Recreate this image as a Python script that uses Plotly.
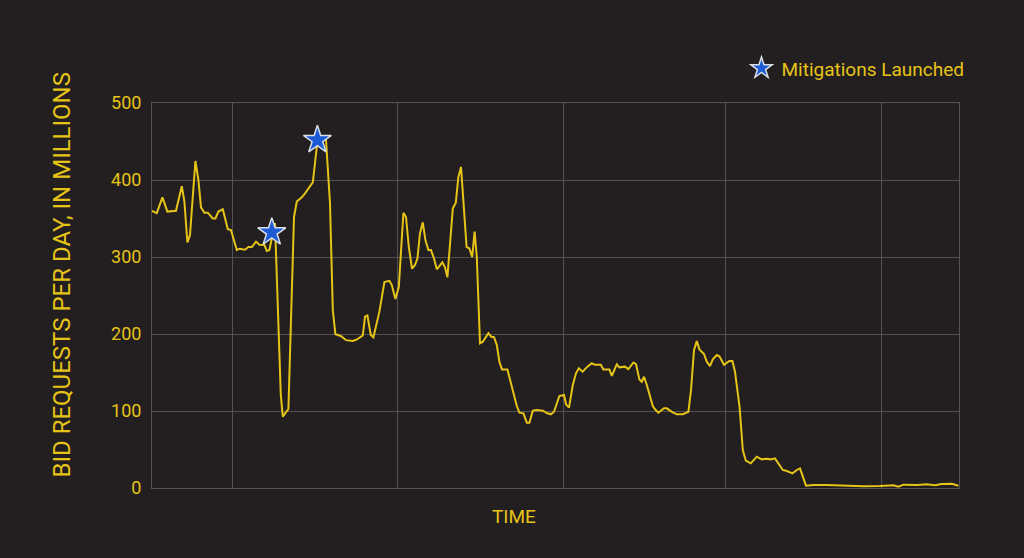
import plotly.graph_objects as go

# time index (sample steps) and bid requests per day (millions)
t = [0, 2.4, 5.2, 7.7, 12, 14.9, 16.2, 17.7, 19, 21.7, 23.2, 24.5, 26.2, 27.9, 30.4, 31.7,
     33.2, 35.4, 37.9, 39.5, 42.4, 43.7, 46.5, 48.2, 49.9, 52, 53.7, 56.2, 57.4, 58.7, 61.5,
     64.4, 65.4, 68.2, 71, 72.4, 74.9, 76.5, 80.4, 81.5, 82.8, 87, 89, 90.4, 91.7, 94.4, 97,
     100.4, 102.5, 105.4, 106.5, 107.7, 109.4, 110.7, 113.7, 116.2, 118.7, 119.9, 121.7,
     123.4, 125.7, 127, 128.4, 130, 131.5, 132.7, 134, 135.4, 136.7, 138.2, 139.5, 141,
     142.4, 145.2, 146.5, 147.7, 149, 150.4, 151.9, 153.2, 154.5, 155.7, 157.3, 158.7,
     160.1, 161.3, 162.4, 164, 165.4, 168.2, 169.6, 171, 172.4, 173.7, 175, 177.7, 180.4,
     182.4, 183.7, 185.7, 187.4, 188.7, 190.4, 192.4, 195.4, 197.7, 199.4, 201, 203.7, 206,
     207, 208.5, 210.4, 212, 213.4, 215.3, 217.7, 219.9, 221.5, 224.4, 225.7, 228.7, 229.9,
     232.4, 233.7, 236.5, 238.2, 240.7, 242, 243.7, 244.9, 246, 247.4, 250.4, 251.5, 253.2,
     256, 257.4, 259.9, 262.4, 265.4, 268.2, 269.5, 271, 272.4, 273.7, 276, 277.4, 279,
     280.4, 282.4, 283.7, 286, 288.7, 290.2, 291.5, 293.8, 295.4, 296.9, 299.4, 302.4,
     304.9, 307.4, 309.4, 311.5, 315.4, 317.4, 320.2, 322.4, 324, 327, 330.7, 337.4, 344,
     349, 355.7, 364, 370.7, 373.2, 375.7, 382.4, 387.4, 391.5, 394.9, 399.9, 403.2]

requests = [360, 357, 377.5, 359, 360, 392, 372, 319, 328.6, 424.7, 400, 364.5, 357.5, 357.5,
            350, 350, 359, 362, 336, 335, 309, 310.8, 309.5, 313, 313, 320, 316, 315.6, 307.8,
            309, 344, 121, 92.6, 102.6, 352, 372, 377.5, 382.7, 397, 426, 452, 452, 369.7, 231,
            199.6, 197.4, 192, 191, 193, 198, 222.5, 224, 198.7, 195.7, 229, 267.5, 269, 263.6,
            245.5, 261, 357.5, 352, 313, 285, 289.6, 298, 331, 345, 322, 309, 309, 298, 284,
            293, 286.6, 273.6, 318, 363, 370.5, 404, 417, 374, 313, 311, 300, 333, 300, 188,
            190, 201, 196.5, 196, 185.7, 164, 154, 154, 125, 106.5, 97.8, 97, 84.8, 84.8, 100.4,
            101.3, 100.4, 97, 95.7, 99, 119.5, 120.8, 108.7, 104.3, 133.8, 149, 155.4, 151,
            157.6, 162, 160, 160, 154, 154, 145.5, 160.6, 156.7, 157.6, 154.5, 163, 161, 141,
            138, 144.5, 133.8, 106.5, 102.2, 97.8, 103.5, 103.5, 99, 95.7, 95.7, 99, 127, 179,
            191, 180, 174, 164, 158.4, 167, 172.7, 171, 160, 165, 165, 151, 105, 49.4, 35.5, 32,
            40.7, 37.2, 38, 37.2, 38.5, 23.4, 22, 19, 23.4, 25.5, 3, 3.9, 4, 3.5, 3.5, 2.2, 2.6,
            3.5, 1.7, 4.3, 3.9, 4.8, 3.5, 5.2, 5.6, 3]

# mitigation launch markers
mitigation_t = [59.9, 82.7]
mitigation_val = [332, 452]

y_ticks = [0, 100, 200, 300, 400, 500]
x_grid = [40, 122.5, 205.5, 286.5, 364.5]

BG = "#231f20"
YEL = "#e6c417"
GRID = "#545153"
FONT = "Roboto"

fig = go.Figure()
fig.add_trace(go.Scatter(x=t, y=requests, mode="lines",
                         line=dict(color=YEL, width=2), showlegend=False,
                         hoverinfo="skip"))
fig.add_trace(go.Scatter(x=mitigation_t, y=mitigation_val, mode="markers",
                         name="Mitigations Launched",
                         marker=dict(symbol="star", size=21, color="#1d5bd6",
                                     line=dict(color="#d8dde6", width=1.5))))

fig.update_layout(
    width=1024, height=558,
    margin=dict(l=152, r=65, t=103, b=70),
    paper_bgcolor=BG, plot_bgcolor=BG,
    font=dict(family=FONT, color=YEL),
    legend=dict(x=1.013, xanchor="right", y=1.09, yanchor="middle",
                bgcolor="rgba(0,0,0,0)", font=dict(size=19, color=YEL),
                itemwidth=30),
    xaxis=dict(range=[0, 403.5], tickvals=x_grid, showticklabels=False,
               showgrid=True, gridcolor=GRID, gridwidth=1, zeroline=False,
               showline=True, linecolor=GRID, linewidth=1, mirror=True, ticks=""),
    yaxis=dict(range=[0, 500], tickvals=y_ticks, showgrid=True, gridcolor=GRID,
               gridwidth=1, zeroline=False, showline=True, linecolor=GRID,
               linewidth=1, mirror=True, ticks="outside", ticklen=6,
               tickcolor=BG, tickfont=dict(size=18, color=YEL)),
    annotations=[
        dict(text="BID REQUESTS PER DAY, IN MILLIONS", textangle=-90,
             xref="paper", yref="paper", x=-0.111, y=0.553, xanchor="center",
             yanchor="middle", showarrow=False, font=dict(size=24, color=YEL)),
        dict(text="TIME", xref="paper", yref="paper", x=0.449, y=-0.075,
             xanchor="center", yanchor="middle", showarrow=False,
             font=dict(size=19, color=YEL)),
    ],
)

fig.write_html("out.html",
               config={"displayModeBar": False},
               post_script="document.body.style.margin='0';"
                           "document.body.style.background='#231f20';")
